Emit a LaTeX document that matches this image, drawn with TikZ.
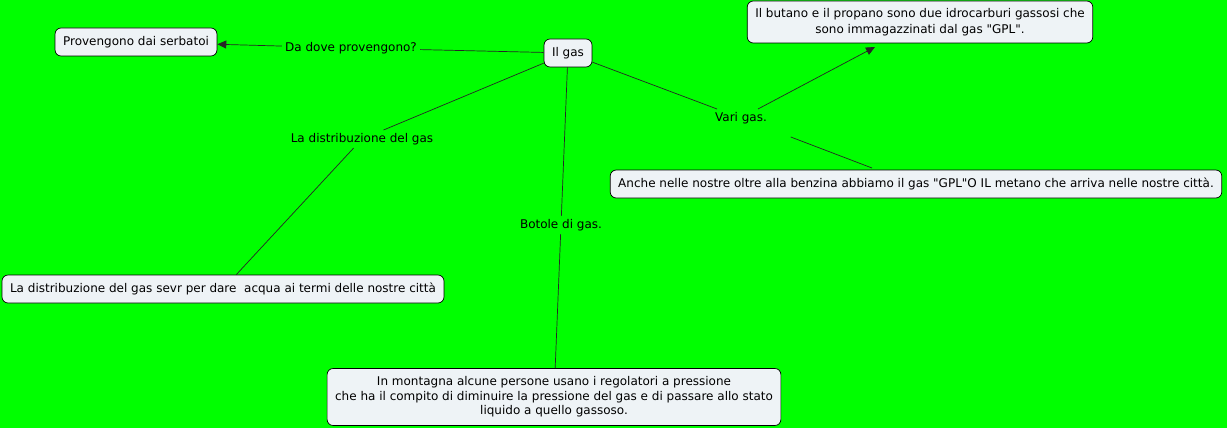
\documentclass[tikz,border=0pt]{standalone}
\usepackage{fontspec}
\setmainfont{DejaVu Sans}
\usetikzlibrary{arrows.meta}
\definecolor{bggreen}{HTML}{00FF00}
\definecolor{boxfill}{HTML}{EEF3F6}
\newcommand{\dq}{{\XeTeXglyph\numexpr\XeTeXcharglyph"22\relax}}

\begin{document}
\begin{tikzpicture}[x=1pt,y=-1pt,
  concept/.style={draw=black, fill=boxfill, rounded corners=6pt, line width=0.7pt,
    inner xsep=8pt, inner ysep=5pt, minimum height=28pt, align=center,
    font=\fontsize{12}{14.5}\selectfont},
  linklabel/.style={inner sep=3pt, font=\fontsize{12}{14}\selectfont},
  link/.style={draw=black!85, line width=0.7pt},
  tip/.style={-{Triangle[length=9pt,width=8pt]}}]

% Background
\fill[bggreen] (0,0) rectangle (1227,428);
\useasboundingbox (0,0) rectangle (1227,428);

% Concepts
\node[concept] (gas) at (568,53) {Il gas};
\node[concept] (prov) at (136,42) {Provengono dai serbatoi};
\node[concept, minimum height=42pt, font=\fontsize{12}{16}\selectfont] (butano) at (920,22) {Il butano e il propano sono due idrocarburi gassosi che\\sono immagazzinati dal gas \dq GPL\dq.};
\node[concept] (anche) at (916,184) {Anche nelle nostre oltre alla benzina abbiamo il gas \dq GPL\dq O IL metano che arriva nelle nostre città.};
\node[concept] (distr) at (223,289) {La distribuzione del gas sevr per dare \ acqua ai termi delle nostre città};
\node[concept, minimum height=57pt] (mont) at (554,397) {In montagna alcune persone usano i regolatori a pressione\\che ha il compito di diminuire la pressione del gas e di passare allo stato\\liquido a quello gassoso.};

% Link labels
\node[linklabel] (ldove) at (351,48) {Da dove provengono?};
\node[linklabel] (lvari) at (741,118) {Vari gas.};
\node[linklabel] (ldistr) at (362,139) {La distribuzione del gas};
\node[linklabel] (lbotole) at (561,225) {Botole di gas.};

\coordinate (butanotip) at (875,47);
\coordinate (anchetop) at (872,168);

% Connectors
\draw[link] (gas) -- (ldove);
\draw[link, tip] (ldove) -- (prov);
\draw[link] (gas) -- (lvari);
\draw[link, tip] (lvari) -- (butanotip);
\draw[link, shorten <=28pt] (lvari) -- (anchetop);
\draw[link] (gas) -- (ldistr);
\draw[link] (ldistr) -- (distr);
\draw[link] (gas) -- (lbotole);
\draw[link] (lbotole) -- (mont);

\end{tikzpicture}
\end{document}
